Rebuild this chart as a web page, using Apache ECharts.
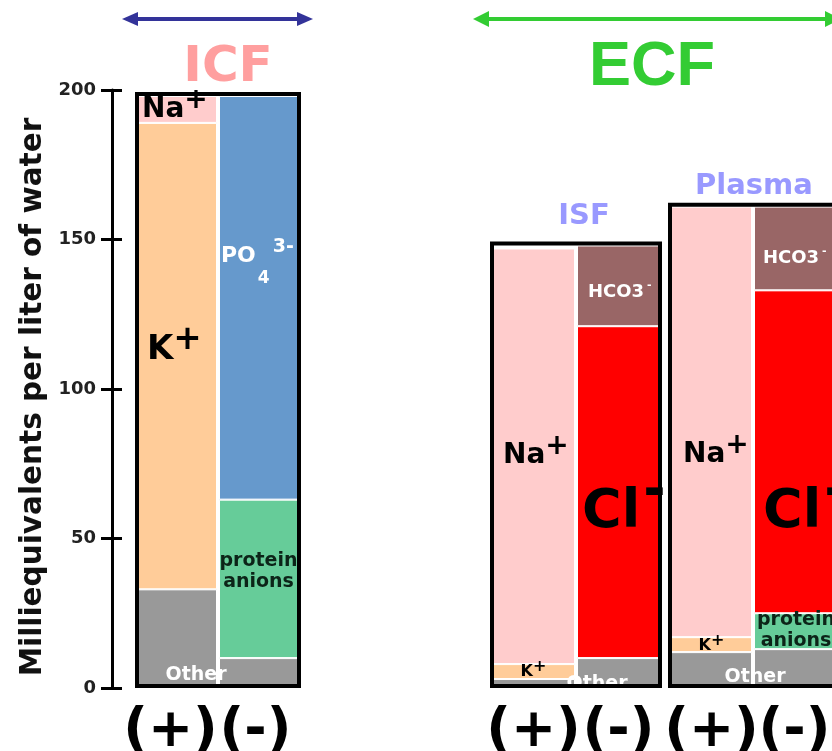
<!DOCTYPE html>
<html>
<head>
<meta charset="utf-8">
<script src="https://cdn.jsdelivr.net/npm/echarts@6/dist/echarts.min.js"></script>
<style>
html,body{margin:0;padding:0;background:#fff;}
#chart{width:832px;height:751px;}
</style>
</head>
<body>
<div id="chart"></div>
<script>
// ---- data (mEq per liter of water) ----
const columnLabels = ['(+)', '(-)'];
const groupNames = ['ICF', 'ISF', 'Plasma'];
const yTicks = [0, 50, 100, 150, 200];
const yTitle = 'Milliequivalents per liter of water';
// each array: [ (+) column, (-) column ], null = not present
const icfOther = [33, 10];
const icfK = [156, null];
const icfNa = [9, null];
const icfProtein = [null, 53];
const icfPO4 = [null, 135];

const isfOther = [3, 10];
const isfK = [5, null];
const isfNa = [139, null];
const isfCl = [null, 111];
const isfHCO3 = [null, 27];

const plasmaOther = [12, 13];
const plasmaK = [5, null];
const plasmaNa = [144, null];
const plasmaProtein = [null, 12];
const plasmaCl = [null, 108];
const plasmaHCO3 = [null, 28];

// ---- styles ----
const COLORS = {
  Other: '#999999', K: '#ffcc99', Na: '#ffcccc', Protein: '#66cc99',
  PO4: '#6699cc', Cl: '#ff0000', HCO3: '#996666'
};
const FONT = 'DejaVu Sans';
const grids = [
  {left: 137, width: 162, top: 90, bottom: 63},
  {left: 491, width: 170, top: 90, bottom: 63},
  {left: 670, width: 166, top: 90, bottom: 63}
];
const boxExtra = [4, 2, 4];

function sup(size, raise, color, extra) {
  return Object.assign({fontSize: size, fontWeight: 'bold', color: color, fontFamily: FONT, padding: [0, 0, raise * 2, 0]}, extra || {});
}
function tok(size, color, weight) {
  return {fontSize: size, fontWeight: weight || 'bold', color: color, fontFamily: FONT};
}
function naLabel(dist, off) {
  return {show: true, position: 'insideLeft', distance: dist, offset: off,
    formatter: '{a|Na}{s|+}', rich: {a: tok(28, '#000'), s: sup(28, 9, '#000')}};
}
function kLabel(size, raise, off, pos, dist) {
  return {show: true, position: pos || 'inside', distance: dist || 5, offset: off,
    formatter: '{a|K}{s|+}', rich: {a: tok(size, '#000'), s: sup(size, raise, '#000')}};
}
function otherLabel(off) {
  return {show: true, position: 'inside', offset: off, formatter: 'Other',
    color: '#fff', fontSize: 19, fontWeight: 'bold', fontFamily: FONT, textBorderWidth: 0};
}
function proteinLabel(off) {
  return {show: true, position: 'inside', offset: off, formatter: 'protein\nanions',
    color: '#0c2418', fontSize: 19, fontWeight: 'bold', lineHeight: 21, fontFamily: FONT, align: 'center', textBorderWidth: 0};
}
function clLabel(dist, off) {
  return {show: true, position: 'insideLeft', distance: dist, offset: off,
    formatter: '{a|Cl}{s|-}', rich: {a: tok(54, '#000'), s: sup(54, 20, '#000', {padding: [0, 0, 40, 3]})}};
}
function hco3Label(dist, off) {
  return {show: true, position: 'insideLeft', distance: dist, offset: off,
    formatter: '{a|HCO3}{s|-}', rich: {a: tok(18, '#fff'), s: sup(11, 7, '#fff', {padding: [0, 0, 14, 3]})}};
}
const po4Label = {show: true, position: 'insideLeft', distance: 2, offset: [0, -42],
  formatter: '{a|PO}{b|4}{c|3-}',
  rich: {
    a: tok(22, '#fff'),
    b: Object.assign(tok(17, '#fff'), {padding: [46, 0, 0, 2]}),
    c: Object.assign(tok(19, '#fff'), {padding: [0, 0, 18, 3]})
  }};

// build series data from value arrays + per-item labels
function seg(values, labels) {
  return values.map((v, i) => {
    if (v === null) return '-';
    if (labels && labels[i]) return {value: v, label: labels[i]};
    return v;
  });
}
function sum(arrs, i) { return arrs.reduce((s, a) => s + (a[i] || 0), 0); }

const groupSeries = [
  [ // ICF
    ['Other', icfOther, [otherLabel([18.5, 36.5]), null]],
    ['K', icfK, [kLabel(34, 10, [0, -6], 'insideLeft', 9), null]],
    ['Na', icfNa, [naLabel(4, [0, 0]), null]],
    ['Protein', icfProtein, [null, proteinLabel([0, -7])]],
    ['PO4', icfPO4, [null, po4Label]]
  ],
  [ // ISF
    ['Other', isfOther, [null, otherLabel([-21.5, 11])]],
    ['K', isfK, [kLabel(16, 5, [0, 0.5]), null]],
    ['Na', isfNa, [naLabel(11, [0, -1]), null]],
    ['Cl', isfCl, [null, clLabel(5, [0, 21])]],
    ['HCO3', isfHCO3, [null, hco3Label(11, [0, 6])]]
  ],
  [ // Plasma
    ['Other', plasmaOther, [otherLabel([43.5, 7]), null]],
    ['K', plasmaK, [kLabel(16, 5, [0, 1.5]), null]],
    ['Na', plasmaNa, [naLabel(12, [0, 33]), null]],
    ['Protein', plasmaProtein, [null, proteinLabel([1.5, -1])]],
    ['Cl', plasmaCl, [null, clLabel(9, [0, 61.5])]],
    ['HCO3', plasmaHCO3, [null, hco3Label(9, [0, 10])]]
  ]
];

const xAxis = [], yAxis = [], series = [];
grids.forEach((g, gi) => {
  const colW = g.width / 2;
  xAxis.push({
    type: 'category', gridIndex: gi, data: columnLabels,
    axisLine: {show: false}, axisTick: {show: false}, splitLine: {show: false},
    axisLabel: {
      interval: 0, margin: 17, fontSize: 54, fontWeight: 'bold', color: '#000', fontFamily: FONT,
      formatter: (v, i) => (gi === 0 ? (i === 0 ? '{a|' + v + '}' : '{b|' + v + '}') : v),
      rich: {a: {fontSize: 54, fontWeight: 'bold', color: '#000', fontFamily: FONT, padding: [0, 14, 0, 0]},
             b: {fontSize: 54, fontWeight: 'bold', color: '#000', fontFamily: FONT, padding: [0, 6, 0, 0]}}
    }
  });
  xAxis.push({type: 'category', gridIndex: gi, data: [groupNames[gi]], show: false});
  yAxis.push({
    type: 'value', gridIndex: gi, min: yTicks[0], max: yTicks[yTicks.length - 1], interval: yTicks[1] - yTicks[0],
    show: gi === 0, position: 'left', offset: 25,
    axisLine: {show: true, lineStyle: {color: '#000', width: 3}},
    axisTick: {show: true, length: 11, lineStyle: {color: '#000', width: 3}},
    axisLabel: {margin: 16, fontSize: 18, fontWeight: 'bold', color: '#222', fontFamily: FONT},
    splitLine: {show: false},
    name: gi === 0 ? yTitle : '', nameLocation: 'middle', nameGap: 64, nameRotate: 90,
    nameTextStyle: {fontSize: 29.5, fontWeight: 'bold', color: '#111', fontFamily: FONT, padding: [0, 16, 0, 0]}
  });
  const items = groupSeries[gi];
  items.forEach(([name, vals, labels]) => {
    series.push({
      type: 'bar', name: groupNames[gi] + ' ' + name, xAxisIndex: gi * 2, yAxisIndex: gi,
      stack: 'g' + gi, barWidth: colW - 2, data: seg(vals, labels),
      itemStyle: {color: COLORS[name], borderColor: '#fff', borderWidth: 1},
      label: {show: false}, z: 2, silent: true
    });
  });
  const arrs = items.map(it => it[1]);
  const boxVal = Math.max(sum(arrs, 0), sum(arrs, 1)) + 1.3;
  series.push({
    type: 'bar', name: groupNames[gi] + ' box', xAxisIndex: gi * 2 + 1, yAxisIndex: gi,
    barWidth: g.width + boxExtra[gi], data: [boxVal],
    itemStyle: {color: 'rgba(0,0,0,0)', borderColor: '#000', borderWidth: 4},
    z: 5, silent: true
  });
});
// inward half of the y-axis ticks (ticks cross the axis line)
yAxis.push({
  type: 'value', gridIndex: 0, min: yTicks[0], max: yTicks[yTicks.length - 1], interval: yTicks[1] - yTicks[0],
  position: 'left', offset: 25, axisLine: {show: false},
  axisTick: {show: true, inside: true, length: 10, lineStyle: {color: '#000', width: 3}},
  axisLabel: {show: false}, splitLine: {show: false}
});

const graphic = [
  // ICF arrow
  {type: 'line', shape: {x1: 132, y1: 19, x2: 303, y2: 19}, style: {stroke: '#333399', lineWidth: 4}},
  {type: 'polygon', shape: {points: [[122, 19], [138, 12], [138, 26]]}, style: {fill: '#333399'}},
  {type: 'polygon', shape: {points: [[313, 19], [297, 12], [297, 26]]}, style: {fill: '#333399'}},
  // ECF arrow
  {type: 'line', shape: {x1: 483, y1: 19, x2: 832, y2: 19}, style: {stroke: '#33cc33', lineWidth: 4}},
  {type: 'polygon', shape: {points: [[473, 19], [489, 11], [489, 27]]}, style: {fill: '#33cc33'}},
  {type: 'polygon', shape: {points: [[841, 19], [825, 11], [825, 27]]}, style: {fill: '#33cc33'}},
  // titles
  {type: 'text', x: 228, y: 68, style: {text: 'ICF', font: 'bold 50px "DejaVu Sans"', fill: '#ff9f9f', align: 'center', verticalAlign: 'middle', textAlign: 'center', textVerticalAlign: 'middle'}},
  {type: 'text', x: 652, y: 68, style: {text: 'ECF', font: 'bold 63px "Liberation Sans"', fill: '#33cc33', align: 'center', verticalAlign: 'middle', textAlign: 'center', textVerticalAlign: 'middle'}},
  {type: 'text', x: 584, y: 216, style: {text: 'ISF', font: 'bold 29px "DejaVu Sans"', fill: '#9999ff', align: 'center', verticalAlign: 'middle', textAlign: 'center', textVerticalAlign: 'middle'}},
  {type: 'text', x: 754, y: 186, style: {text: 'Plasma', font: 'bold 29px "DejaVu Sans"', fill: '#9999ff', align: 'center', verticalAlign: 'middle', textAlign: 'center', textVerticalAlign: 'middle'}}
];

const chart = echarts.init(document.getElementById('chart'), null, {renderer: 'canvas'});
chart.setOption({
  animation: false,
  backgroundColor: '#fff',
  textStyle: {fontFamily: FONT},
  grid: grids.map(g => Object.assign({containLabel: false, outerBoundsMode: 'none'}, g)),
  xAxis: xAxis,
  yAxis: yAxis,
  series: series,
  graphic: graphic
});
</script>
</body>
</html>
